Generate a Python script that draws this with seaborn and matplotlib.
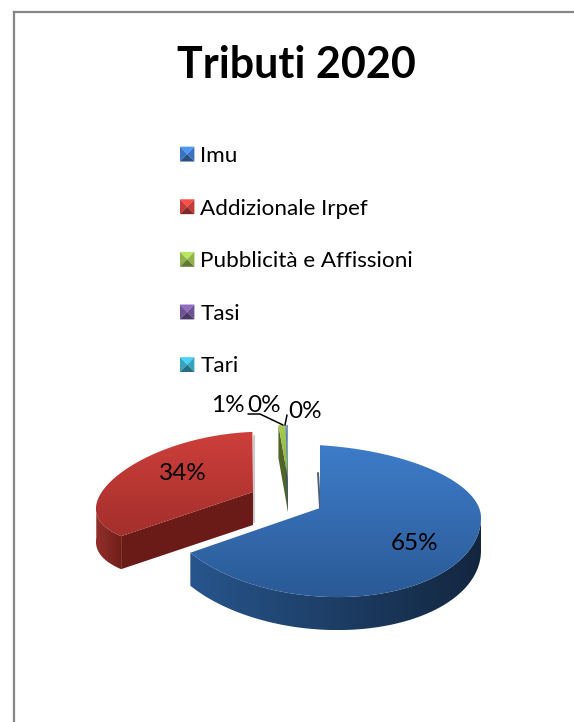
import numpy as np
import matplotlib
matplotlib.use("Agg")
import matplotlib.pyplot as plt
import seaborn as sns
from matplotlib.patches import Polygon, Rectangle
from matplotlib.legend_handler import HandlerBase
from matplotlib.colors import to_rgb

# ---- data ----
categories = ["Imu", "Addizionale Irpef", "Pubblicità e Affissioni", "Tasi", "Tari"]
shares = [64.9, 34.0, 0.8, 0.15, 0.15]
title_text = "Tributi 2020"
base_colors = ["#3B74BE", "#C23B38", "#8FB24A", "#6E5494", "#37A3BF"]

# ---- geometry (figure pixels) ----
W, H = 574, 722
CX, CY = 320, 508          # pie hub
RX = 161                   # horizontal radius
DEPTH = 33
OFFSETS = [(0, 0), (-67, -16), (-32, -29), (-32, -29), (-32, -29)]
RADIUS = [1.0, 0.96, 0.86, 0.86, 0.86]
SCALE_UP = [0.39, 0.39, 0.39, 0.39, 0.39]      # foreshortening behind hub
SCALE_DOWN = [0.55, 0.39, 0.55, 0.55, 0.55]    # foreshortening in front of hub
TILT = [0.06, 0.0, 0.0, 0.0, 0.0]              # right side sinks
DROP = [0.0, 13.0, 0.0, 0.0, 0.0]              # side of the rim sinks
SHEAR = [0.0, 0.167, 0.0, 0.0, 0.0]            # perspective lean

sns.set_theme(style="white")
plt.rcParams["font.family"] = ["Lato", "DejaVu Sans"]

fig = plt.figure(figsize=(W / 100, H / 100), dpi=100, facecolor="white")
ax = fig.add_axes([0, 0, 1, 1])
ax.set_xlim(0, W)
ax.set_ylim(H, 0)
ax.axis("off")


def rim(theta_deg, i):
    """Map clockwise-from-top angle onto the tilted pie of slice i."""
    t = np.radians(theta_deg)
    r = RX * RADIUS[i]
    x = r * np.sin(t)
    y = r * np.cos(t)
    sy = np.where(y > 0, SCALE_UP[i], SCALE_DOWN[i])
    dy = -y * sy + TILT[i] * x + DROP[i] * np.sin(t) ** 2
    return CX + OFFSETS[i][0] + x - SHEAR[i] * dy, CY + OFFSETS[i][1] + dy


def gradient_fill(poly, c0, c1, horizontal=False, zorder=2):
    cmap = sns.blend_palette([c0, c1], as_cmap=True)
    g = np.linspace(0, 1, 256)
    g = g[None, :] if horizontal else g[:, None]
    xs, ys = poly[:, 0], poly[:, 1]
    ext = (xs.min(), xs.max(), ys.max(), ys.min())
    im = ax.imshow(g, cmap=cmap, extent=ext, aspect="auto", zorder=zorder,
                   vmin=0, vmax=1, interpolation="bilinear")
    p = Polygon(poly, closed=True, transform=ax.transData, fc="none", ec="none")
    ax.add_patch(p)
    im.set_clip_path(p)


frac = np.array(shares) / sum(shares)
edges = np.concatenate([[0], np.cumsum(frac)]) * 360

styles = [
    dict(top=("#3E7CC9", "#2A5A96"), side=("#27558C", "#13263F"), cut="#1F4470"),
    dict(top=("#CE3F3B", "#A32F2C"), side=("#93302B", "#701D19"), cut="#6B1B17"),
    dict(top=("#A6CC50", "#8AAC42"), side=("#4F6426", "#4F6426"), cut="#4F6426"),
    dict(top=("#8064A2", "#8064A2"), side=("#4F3C66", "#4F3C66"), cut="#4F3C66"),
    dict(top=("#4BACC6", "#4BACC6"), side=("#2A7A90", "#2A7A90"), cut="#2A7A90"),
]

# draw back to front
for i in [2, 3, 4, 1, 0]:
    a0, a1 = edges[i], edges[i + 1]
    th = np.linspace(a0, a1, 200)
    x, y = rim(th, i)
    hx, hy = CX + OFFSETS[i][0], CY + OFFSETS[i][1]
    st = styles[i]
    if i >= 1:
        face = np.array([[hx, hy], [x[0], y[0]], [x[0], y[0] + DEPTH], [hx, hy + DEPTH]])
        ax.add_patch(Polygon(face, closed=True, fc=st["cut"], ec="none", zorder=1 + i * 0.01))
    mask = (th > 90) & (th < 270)
    if mask.any():
        wx, wy = x[mask], y[mask]
        wall = np.column_stack([np.r_[wx, wx[::-1]], np.r_[wy, wy[::-1] + DEPTH]])
        gradient_fill(wall, st["side"][0], st["side"][1], horizontal=True, zorder=1.5)
    top = np.column_stack([np.r_[hx, x], np.r_[hy, y]])
    gradient_fill(top, st["top"][0], st["top"][1], zorder=2)

# soft edge shading beside the cut faces
ax.plot([CX - 2, CX], [CY - 35, CY], color="#1F3553", lw=1.4, alpha=0.8, zorder=1.9)
ax.plot([254, 254], [436, 522], color="#999999", lw=1.5, alpha=0.5, zorder=0.9)

# data labels
label_pos = [(415, 543), (183, 473), (228, 406), (264, 405), (305, 411)]
for s, (lx, ly) in zip(shares, label_pos):
    ax.text(lx, ly, f"{s:.0f}%", ha="center", va="center", fontsize=17.5,
            color="black", zorder=6)

# leader lines
ax.plot([248, 260, 283], [414, 414, 425], color="black", lw=1.1, zorder=5)
ax.plot([287, 285], [415, 425], color="black", lw=1.1, zorder=5)

# frame
ax.plot([14, 14], [H, 12], color="#868686", lw=1.6, zorder=0, solid_capstyle="projecting")
ax.plot([14, W], [12, 12], color="#868686", lw=1.6, zorder=0, solid_capstyle="projecting")

# title
ax.text(296, 65, title_text, ha="center", va="center", fontsize=31,
        fontweight="bold", color="black")


class BevelHandler(HandlerBase):
    def __init__(self, base):
        super().__init__()
        self.base = base

    def create_artists(self, legend, orig, xd, yd, w, h, fs, trans):
        rgb = np.array(to_rgb(self.base))
        x0, y0, x1, y1 = -xd, -yd, -xd + w, -yd + h
        cx, cy = (x0 + x1) / 2, (y0 + y1) / 2
        tris = [
            ([(x0, y1), (x1, y1), (cx, cy)], np.clip(rgb * 1.3, 0, 1)),
            ([(x0, y0), (x0, y1), (cx, cy)], rgb),
            ([(x1, y0), (x1, y1), (cx, cy)], rgb),
            ([(x0, y0), (x1, y0), (cx, cy)], rgb * 0.68),
        ]
        return [Polygon(p, closed=True, fc=col, ec="none", transform=trans) for p, col in tris]


handles = [Rectangle((0, 0), 1, 1, fc=c) for c in base_colors]
leg = ax.legend(handles, categories, loc="upper left",
                bbox_to_anchor=(180 / W, 1 - 146 / H), frameon=False,
                fontsize=16.2, labelspacing=1.45, handlelength=0.64, handleheight=0.64,
                handletextpad=0.26, borderpad=0, borderaxespad=0,
                handler_map={h: BevelHandler(c) for h, c in zip(handles, base_colors)},
                labelcolor="black")

fig.savefig("out.png", dpi=100, facecolor="white")
